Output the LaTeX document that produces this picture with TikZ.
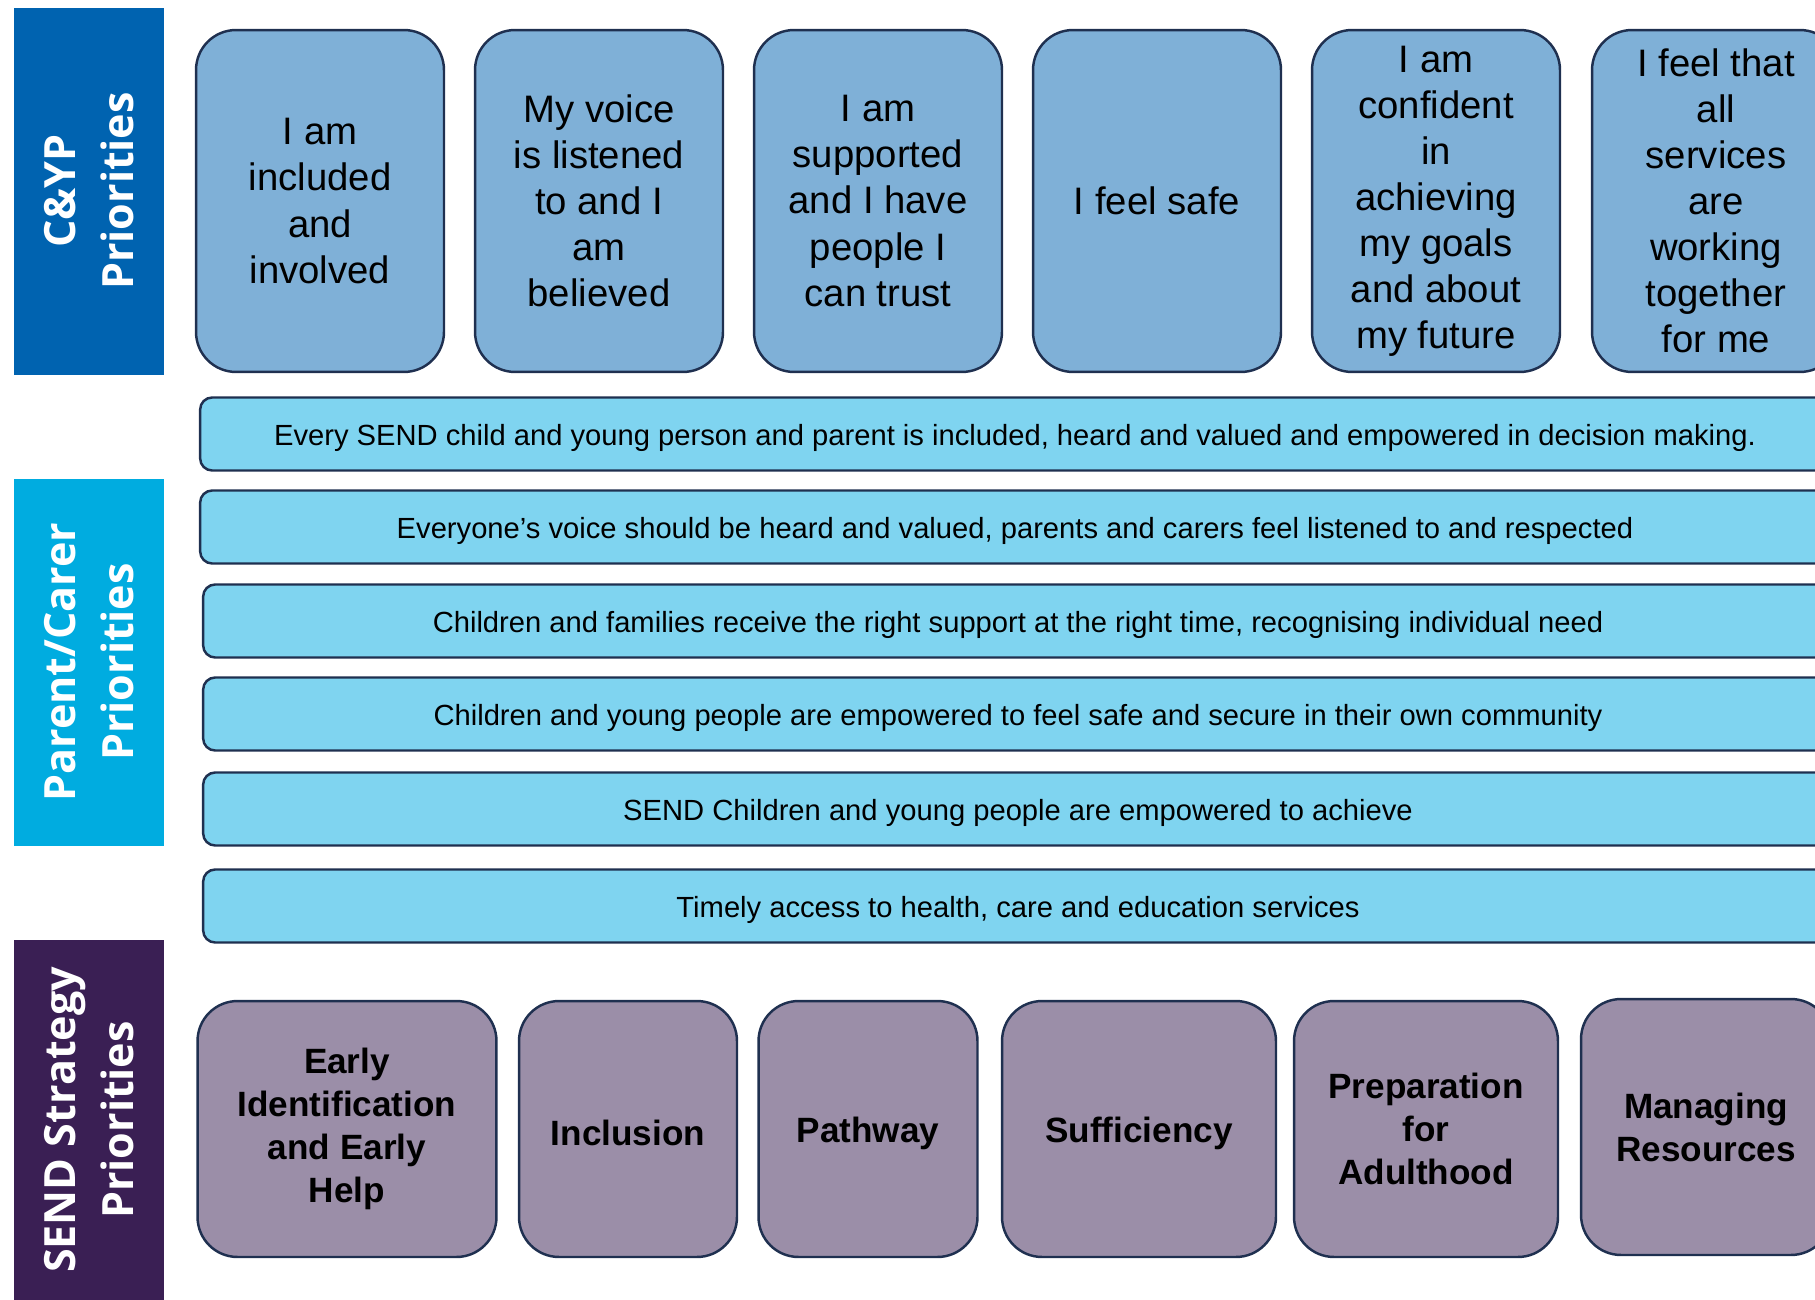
\documentclass[tikz,border=0pt]{standalone}
\usepackage{fontspec}
\setmainfont{Liberation Sans}
\newfontfamily\headfont{Open Sans}
\definecolor{edgeblue}{RGB}{31,48,80}
\definecolor{cypblue}{RGB}{0,99,176}
\definecolor{parentblue}{RGB}{0,172,224}
\definecolor{sendpurple}{RGB}{58,31,84}
\definecolor{wishfill}{RGB}{127,176,215}
\definecolor{rowfill}{RGB}{127,212,240}
\definecolor{stratfill}{RGB}{155,142,168}
\tikzstyle{every node}=[inner sep=0pt,align=center]
\tikzstyle{header}=[minimum width=3cm,text=white,rotate=90,
  font=\headfont\bfseries\fontsize{24.5}{33}\selectfont]
\tikzstyle{wish}=[draw=edgeblue,line width=1.4pt,fill=wishfill,rounded corners=0.8cm,
  minimum width=4.96cm,minimum height=6.84cm,font=\fontsize{21.8}{26.2}\selectfont]
\tikzstyle{bar}=[draw=edgeblue,line width=1.4pt,fill=rowfill,rounded corners=0.24cm,
  minimum width=32.6cm,minimum height=1.46cm,font=\fontsize{16.6}{19}\selectfont,
  execute at begin node={\rule{0pt}{16pt}}]
\tikzstyle{aim}=[draw=edgeblue,line width=1.4pt,fill=stratfill,rounded corners=0.8cm,
  minimum height=5.12cm,font=\bfseries\fontsize{20}{24.5}\selectfont,
  execute at begin node={\rule{0pt}{19.5pt}}]

\begin{document}
\begin{tikzpicture}[x=0.02cm,y=-0.02cm]
\clip (0,0) rectangle (1815,1300);
% side headers
\fill[cypblue] (14,8) rectangle (164,375);
\node[header] (H1) at (89,191) {C\&YP\\Priorities};
\fill[parentblue] (14,479) rectangle (164,846);
\node[header] (H2) at (89,662) {Parent/Carer\\Priorities};
\fill[sendpurple] (14,940) rectangle (164,1310);
\node[header] (H3) at (89,1120) {SEND Strategy\\Priorities};
% C&YP boxes
\node[wish] (Y1) at (320,201) {I am\\included\\and\\involved};
\node[wish] (Y2) at (599,201) {My voice\\is listened\\to and I\\am\\believed};
\node[wish] (Y3) at (878,201) {I am\\supported\\and I have\\people I\\can trust};
\node[wish] (Y4) at (1157,201) {I feel safe};
\node[wish] (Y5) at (1436,201) {I am\\confident\\in\\achieving\\my goals\\and about\\my future};
\node[wish] (Y6) at (1716,201) {I feel that\\all\\services\\are\\working\\together\\for me};
% parent/carer rows
\node[bar] (P1) at (1015,434) {Every SEND child and young person and parent is included, heard and valued and empowered in decision making.};
\node[bar] (P2) at (1015,527) {Everyone’s voice should be heard and valued, parents and carers feel listened to and respected};
\node[bar] (P3) at (1018,621) {Children and families receive the right support at the right time, recognising individual need};
\node[bar] (P4) at (1018,714) {Children and young people are empowered to feel safe and secure in their own community};
\node[bar] (P5) at (1018,809) {SEND Children and young people are empowered to achieve};
\node[bar] (P6) at (1018,906) {Timely access to health, care and education services};
% strategy boxes
\node[aim,minimum width=5.98cm] (S1) at (347,1129) {Early\\Identification\\and Early\\Help};
\node[aim,minimum width=4.36cm] (S2) at (628,1129) {Inclusion};
\node[aim,minimum width=4.38cm] (S3) at (868,1129) {Pathway};
\node[aim,minimum width=5.48cm] (S4) at (1139,1129) {Sufficiency};
\node[aim,minimum width=5.28cm] (S5) at (1426,1129) {Preparation\\for\\Adulthood};
\node[aim,minimum width=5.0cm] (S6) at (1706,1127) {Managing\\Resources};
\end{tikzpicture}
\end{document}
